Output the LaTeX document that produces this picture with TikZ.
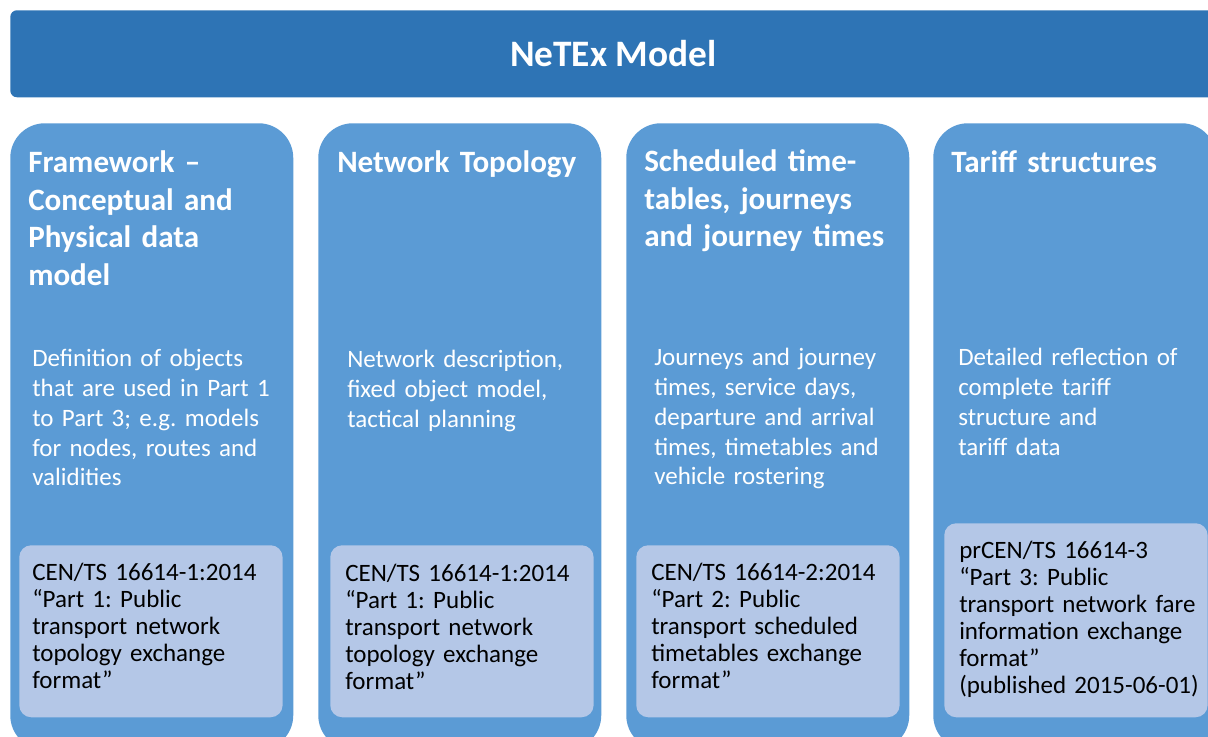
\documentclass[tikz,border=0pt]{standalone}
\usepackage{fontspec}
\setmainfont{Carlito}
\usetikzlibrary{positioning}
\definecolor{bannerblue}{HTML}{2E74B5}
\definecolor{colblue}{HTML}{5B9BD5}
\definecolor{stdblue}{HTML}{B4C7E7}
\frenchspacing

\begin{document}
\begin{tikzpicture}[x=0.75pt, y=-0.75pt,
  banner/.style={fill=bannerblue, rounded corners=5pt, anchor=north west, inner sep=0pt,
    minimum width=904.5pt, minimum height=65.25pt, text=white,
    font=\fontsize{28}{34}\selectfont\bfseries},
  colbox/.style={fill=colblue, rounded corners=26pt, anchor=north west, inner sep=0pt,
    minimum width=212.25pt, minimum height=470pt},
  stdbox/.style={fill=stdblue, rounded corners=9pt, anchor=north west, inner sep=0pt,
    minimum width=197.5pt, minimum height=129pt},
  coltitle/.style={anchor=base west, inner sep=0pt, text=white, text width=205pt, align=left,
    font=\fontsize{23.3}{28.1}\selectfont\bfseries},
  coldesc/.style={anchor=base west, inner sep=0pt, text=white, text width=205pt, align=left,
    font=\fontsize{18.75}{22.3}\selectfont},
  stdtext/.style={anchor=base west, inner sep=0pt, text=black, text width=195pt, align=left,
    font=\fontsize{18.75}{20.25}\selectfont}]
  \useasboundingbox (0,0) rectangle (1208,737);
  \clip (0,0) rectangle (1208,737);

  %----- banner -----
  \node[banner] (netex) at (10,10) {NeTEx Model};

  %----- four columns -----
  \node[colbox] (c1) at (10,123) {};
  \node[colbox] (c2) at (318,123) {};
  \node[colbox] (c3) at (626,123) {};
  \node[colbox] (c4) at (933,123) {};

  %----- column titles -----
  \node[coltitle] (t1) at ([shift={(18,50)}]c1.north west)
    {Framework --\\Conceptual and\\Physical data\\model};
  \node[coltitle] (t2) at ([shift={(19,50)}]c2.north west) {Network Topology};
  \node[coltitle] (t3) at ([shift={(18,49)}]c3.north west)
    {Scheduled time-\\tables, journeys\\and journey times};
  \node[coltitle] (t4) at ([shift={(18,50)}]c4.north west) {Tariff structures};

  %----- descriptions -----
  \node[coldesc] (d1) at ([shift={(22,244)}]c1.north west)
    {Definition of objects\\that are used in Part 1\\to Part 3; e.g. models\\for nodes, routes and\\validities};
  \node[coldesc] (d2) at ([shift={(29,245)}]c2.north west)
    {Network description,\\fixed object model,\\tactical planning};
  \node[coldesc] (d3) at ([shift={(28,243)}]c3.north west)
    {Journeys and journey\\times, service days,\\departure and arrival\\times, timetables and\\vehicle rostering};
  \node[coldesc] (d4) at ([shift={(25,243)}]c4.north west)
    {Detailed reflection of\\complete tariff\\structure and\\tariff data};

  %----- standard boxes -----
  \node[stdbox] (s1) at (19,545) {};
  \node[stdbox] (s2) at (330,545) {};
  \node[stdbox] (s3) at (636,545) {};
  \node[stdbox, minimum height=145.5pt] (s4) at (944,523) {};

  \node[stdtext] (n1) at ([shift={(13,36)}]s1.north west)
    {CEN/TS 16614-1:2014\\“Part 1: Public\\transport network\\topology exchange\\format”};
  \node[stdtext] (n2) at ([shift={(15,37)}]s2.north west)
    {CEN/TS 16614-1:2014\\“Part 1: Public\\transport network\\topology exchange\\format”};
  \node[stdtext] (n3) at ([shift={(15,36)}]s3.north west)
    {CEN/TS 16614-2:2014\\“Part 2: Public\\transport scheduled\\timetables exchange\\format”};
  \node[stdtext] (n4) at ([shift={(15,36)}]s4.north west)
    {prCEN/TS 16614-3\\“Part 3: Public\\transport network fare\\information exchange\\format”\\(published 2015-06-01)};
\end{tikzpicture}
\end{document}
